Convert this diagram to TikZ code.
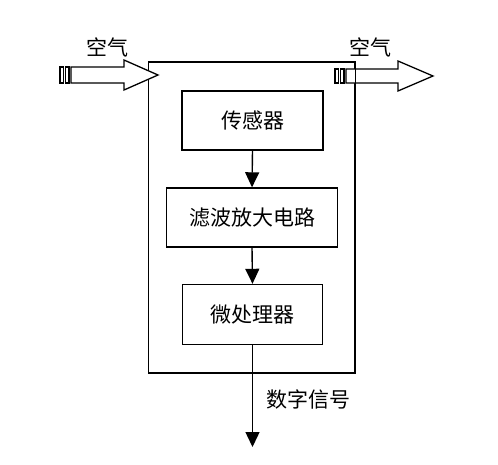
\documentclass[tikz,border=0pt]{standalone}
\usepackage{fontspec}
\setmainfont{Noto Sans CJK SC}
\usetikzlibrary{arrows.meta}
\begin{document}
\begin{tikzpicture}[x=1pt,y=-1pt,
  line width=1.4pt,
  blk/.style={draw=black, rectangle, inner sep=0pt, font=\fontsize{21}{25}\selectfont},
  lbl/.style={font=\fontsize{21}{25}\selectfont, inner sep=0pt},
  flow/.style={-{Triangle[length=15pt,width=14pt]}},
  hollow/.style={draw=black, fill=white, line width=1.3pt, line join=miter}
]
\useasboundingbox (0,0) rectangle (498,464);
% outer box
\node[draw=black, rectangle, minimum width=206pt, minimum height=311pt, inner sep=0pt] (outer) at (251.5,217.5) {};
% inner blocks
\node[blk, minimum width=141pt, minimum height=59pt] (sensor) at (252.5,120.5) {传感器};
\node[blk, minimum width=171pt, minimum height=59pt] (filter) at (252,217.5) {滤波放大电路};
\node[blk, minimum width=140pt, minimum height=60pt] (mcu) at (252.5,314.5) {微处理器};
\coordinate (outend) at (252.5,447);
\draw[flow] (sensor.south) -- (filter.north);
\draw[flow] (filter.south) -- (mcu.north);
\draw[flow] (mcu.south) -- (outend);
\node[lbl] (sig) at (308,399) {数字信号};
% left hollow arrow
\coordinate (lt) at (158,75);
\draw[hollow] (71,67) -- (124,67) -- (124,60) -- (lt) -- (124,90) -- (124,83) -- (71,83) -- cycle;
\draw[hollow] (60,67) rectangle (63.5,83);
\draw[hollow] (65.5,67) rectangle (69,83);
\node[lbl] (airl) at (107,47) {空气};
% right hollow arrow
\coordinate (rt) at (433,76);
\draw[hollow] (346,69) -- (398,69) -- (398,61) -- (rt) -- (398,91) -- (398,83) -- (346,83) -- cycle;
\draw[hollow] (335,69) rectangle (338.5,83);
\draw[hollow] (340.5,69) rectangle (344,83);
\draw (outer.north east) -- (outer.south east);
\node[lbl] (airr) at (370,47) {空气};
\end{tikzpicture}
\end{document}
